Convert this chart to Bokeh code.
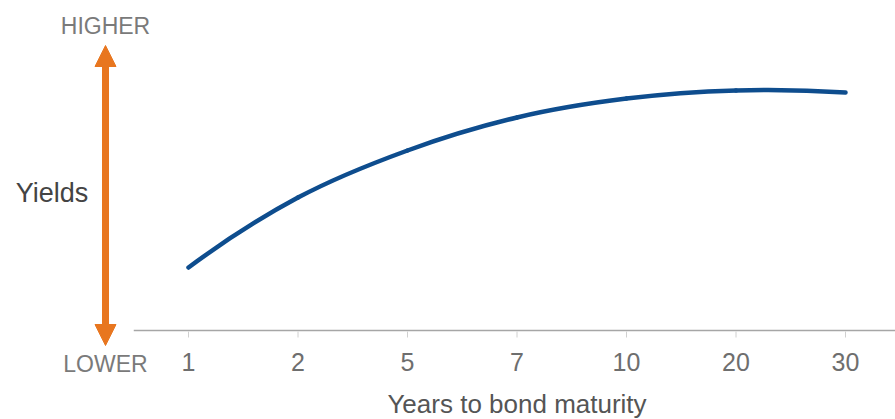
from bokeh.plotting import figure
from bokeh.models import Range1d, Arrow, NormalHead, Label
from bokeh.core.properties import value
from bokeh.embed import file_html
from bokeh.resources import INLINE

# ---- data ----
maturities = ["1", "2", "5", "7", "10", "20", "30"]
yields = [2.1, 4.43, 6.0, 7.1, 7.73, 8.0, 7.93]
axis_title = "Years to bond maturity"
y_title = "Yields"
high_label = "HIGHER"
low_label = "LOWER"

xs = list(range(len(maturities)))

# scales: one x unit = 109.5 px, one y unit = 30 px; y = 0 is the axis line
PX_X = 109.5
PX_Y = 30.0
X_START = -188 / PX_X
X_END = (895 - 188) / PX_X
Y_START = -89 / PX_Y
Y_END = 330 / PX_Y

p = figure(width=895, height=419, output_backend="svg", toolbar_location=None,
           x_range=Range1d(X_START, X_END), y_range=Range1d(Y_START, Y_END),
           x_axis_location=None, y_axis_location=None,
           min_border_left=0, min_border_right=0, min_border_top=0,
           min_border_bottom=0)
p.outline_line_color = None
p.grid.visible = False

FONT = "Liberation Sans"

# ---- x axis (line, ticks, labels, title) ----
axis_x0 = xs[0] - 0.5
p.segment(x0=[axis_x0], y0=[0], x1=[X_END], y1=[0],
          line_color="#a6a6a6", line_width=1.5)
p.segment(x0=xs, y0=[-1 / PX_Y] * len(xs), x1=xs, y1=[-7 / PX_Y] * len(xs),
          line_color="#d0d0d0", line_width=1)
p.text(x=xs, y=[-31.5 / PX_Y] * len(xs), text=maturities,
       text_align="center", text_baseline="middle",
       text_font=value(FONT), text_font_size="25px", text_color="#6e6e6e")
p.text(x=[(xs[0] + xs[-1]) / 2], y=[-73.5 / PX_Y], text=[axis_title],
       text_align="center", text_baseline="middle",
       text_font=value(FONT), text_font_size="26px", text_color="#555555")

# ---- smooth curve through the data points (Catmull-Rom -> cubic bezier) ----
n = len(xs)
pts = list(zip(xs, yields))
# quadratic extrapolation for phantom end points
first = tuple(3 * pts[0][k] - 3 * pts[1][k] + pts[2][k] for k in range(2))
last = tuple(3 * pts[-1][k] - 3 * pts[-2][k] + pts[-3][k] for k in range(2))
ext = [first] + pts + [last]
x0, y0, x1, y1, cx0, cy0, cx1, cy1 = [], [], [], [], [], [], [], []
for i in range(1, n):
    pm, pa, pb, pn = ext[i - 1], ext[i], ext[i + 1], ext[i + 2]
    x0.append(pa[0]); y0.append(pa[1])
    x1.append(pb[0]); y1.append(pb[1])
    cx0.append(pa[0] + (pb[0] - pm[0]) / 6); cy0.append(pa[1] + (pb[1] - pm[1]) / 6)
    cx1.append(pb[0] - (pn[0] - pa[0]) / 6); cy1.append(pb[1] - (pn[1] - pa[1]) / 6)
p.bezier(x0=x0, y0=y0, x1=x1, y1=y1, cx0=cx0, cy0=cy0, cx1=cx1, cy1=cy1,
         line_color="#0e4d8e", line_width=4.5, line_cap="round")

# ---- orange double arrow with labels ----
orange = "#e8761f"
AX = (105 - 188) / PX_X
p.add_layout(Arrow(x_start=AX, y_start=-15 / PX_Y, x_end=AX, y_end=285 / PX_Y,
                   line_color=orange, line_width=7,
                   start=NormalHead(size=21, fill_color=orange, line_color=orange, line_width=1),
                   end=NormalHead(size=21, fill_color=orange, line_color=orange, line_width=1)))

p.add_layout(Label(x=AX, y=304.5 / PX_Y, text=high_label, text_align="center",
                   text_baseline="middle", text_font=FONT,
                   text_font_size="23px", text_color="#7a7a7a"))
p.add_layout(Label(x=AX, y=-33.5 / PX_Y, text=low_label, text_align="center",
                   text_baseline="middle", text_font=FONT,
                   text_font_size="23px", text_color="#7a7a7a"))
p.add_layout(Label(x=(51.5 - 188) / PX_X, y=137.5 / PX_Y, text=y_title,
                   text_align="center", text_baseline="middle", text_font=FONT,
                   text_font_size="27px", text_color="#444444"))

open("out.html", "w").write(file_html(p, INLINE))
